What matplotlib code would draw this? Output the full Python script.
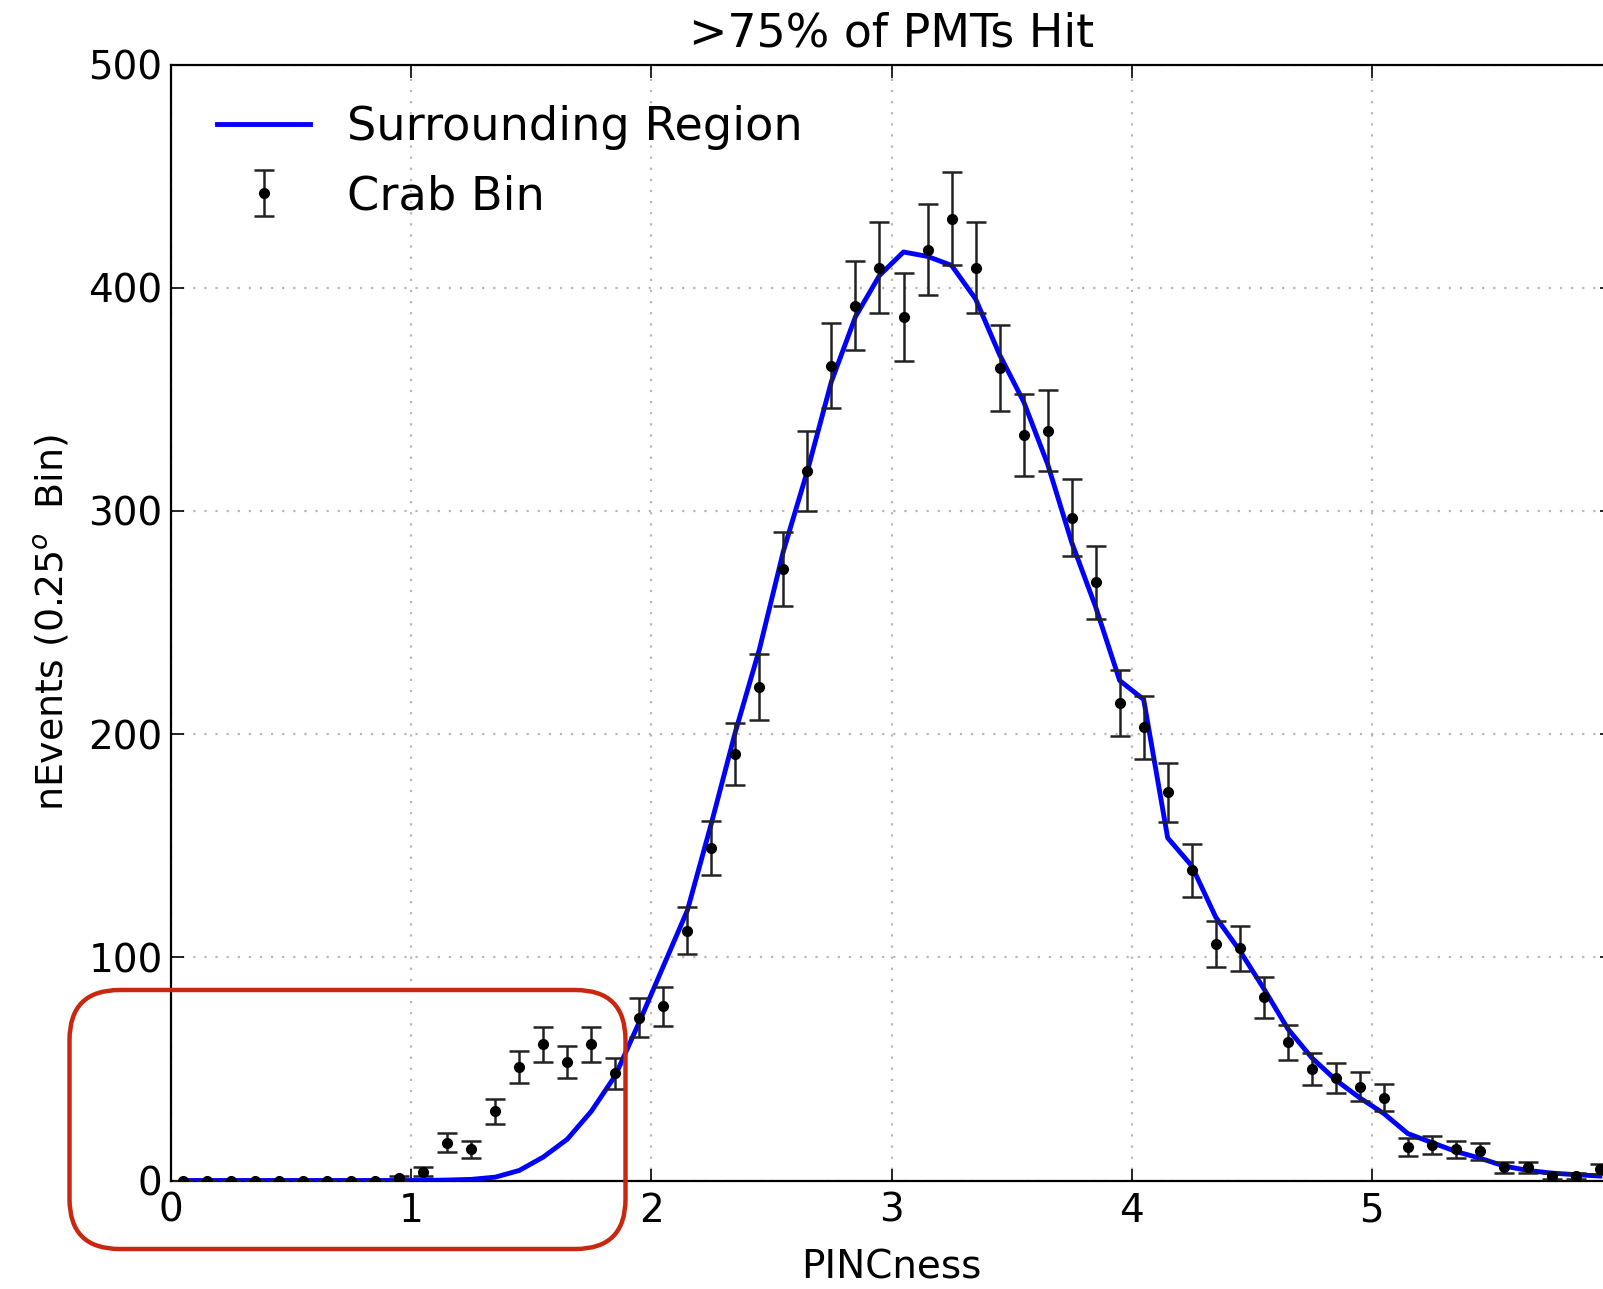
import numpy as np
import matplotlib
matplotlib.use("Agg")
import matplotlib.pyplot as plt
from matplotlib.patches import FancyBboxPatch

# PINCness bins, 0.1 wide
bin_centers = np.round(np.arange(0.05, 6.0, 0.1), 2)

# Crab bin event counts per PINCness bin
crab_counts = [
    0, 0, 0, 0, 0, 0, 0, 0, 0, 1,
    4, 17, 14, 31, 51, 61, 53, 61, 48, 73,
    78, 112, 149, 191, 221, 274, 318, 365, 392, 409,
    387, 417, 431, 409, 364, 334, 336, 297, 268, 214,
    203, 174, 139, 106, 104, 82, 62, 50, 46, 42,
    37, 15, 16, 14, 13, 6, 6, 2, 2, 5,
]

# Surrounding region, normalised to the crab bin
surrounding = [
    0, 0, 0, 0, 0, 0, 0, 0, 0, 0,
    0, 0.2, 0.5, 1.5, 4.5, 10.5, 18.5, 31, 47, 71,
    96, 121, 160, 201, 238, 282, 318, 358, 387, 405.5,
    416, 414, 410, 395, 370, 349, 321, 286, 257, 224,
    215.5, 153.5, 141, 118, 103, 86, 68, 55, 45, 37,
    30, 21, 17, 13, 10, 6.5, 4.5, 3.3, 2.6, 2,
]

x_ticks = [0, 1, 2, 3, 4, 5]
y_ticks = [0, 100, 200, 300, 400, 500]

plt.rcParams['font.family'] = 'DejaVu Sans'

W, H = 1603, 1289
fig = plt.figure(figsize=(W / 100, H / 100), dpi=100)
ax = fig.add_axes([171 / W, (H - 1180.5) / H, (1612 - 171) / W, (1180.5 - 64.5) / H])

ax.plot(bin_centers, surrounding, color='b', lw=3.5, label='Surrounding Region', zorder=3)
ax.errorbar(bin_centers, crab_counts, yerr=np.sqrt(crab_counts), fmt='o', color='k',
            ecolor='#222222', ms=7, elinewidth=1.8, capsize=7, capthick=1.8,
            label='Crab Bin', zorder=4)

ax.set_xlim(0, 6)
ax.set_ylim(0, 500)
ax.set_xticks(x_ticks)
ax.set_yticks(y_ticks)

ax.grid(True, color='0.72', linestyle=(0, (1, 4)), linewidth=1.6)
ax.tick_params(direction='in', length=9, width=1.2, labelsize=28, top=True, right=True)
ax.tick_params(axis='x', pad=8)
ax.tick_params(axis='y', pad=6)
for sp in ax.spines.values():
    sp.set_linewidth(1.6)

ax.set_title('>75% of PMTs Hit', fontsize=33, pad=13)
ax.set_xlabel('PINCness', fontsize=28, va='center')
ax.xaxis.set_label_coords(0.5, -0.078)
ax.set_ylabel('nEvents (0.25$^o$  Bin)', fontsize=27.3, labelpad=12)

ax.legend(loc='upper left', bbox_to_anchor=(0.0, 1.005), frameon=False, fontsize=33.3,
          numpoints=1, handlelength=2.0, handletextpad=0.8, labelspacing=0.52,
          borderaxespad=0.6)

# highlight the low-PINCness excess
box = FancyBboxPatch((69.5, H - 1249), 556, 259,
                     boxstyle='round,pad=0,rounding_size=50',
                     transform=None, fill=False, edgecolor='#c8280f', linewidth=3.2,
                     zorder=10)
fig.patches.append(box)

fig.savefig('out.png', dpi=100, facecolor='white')
